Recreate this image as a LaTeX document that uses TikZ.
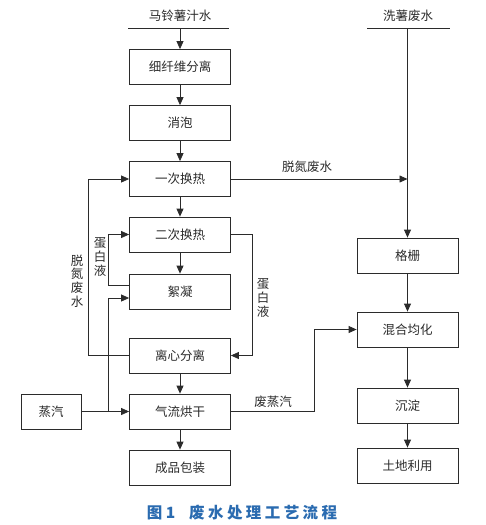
\documentclass[tikz,border=0pt]{standalone}
\usepackage{fontspec}
\setmainfont{Noto Sans CJK SC}
\newfontfamily\capfont[LetterSpace=22]{Noto Sans CJK SC}
\usetikzlibrary{arrows.meta}
\definecolor{capblue}{HTML}{2A6BB0}
\definecolor{ink}{HTML}{2B2B2B}
\tikzset{
  box/.style={draw, minimum width=101pt, minimum height=35pt, inner sep=0pt,
    font=\fontsize{12.5}{14}\selectfont},
  flow/.style={-{Triangle[length=8pt,width=7pt]}},
  lbl/.style={inner sep=0pt, font=\fontsize{12.5}{14}\selectfont},
  vlbl/.style={lbl, align=center, font=\fontsize{12.5}{13.8}\selectfont},
}
\begin{document}
\begin{tikzpicture}[x=1pt, y=-1pt, line width=0.8pt, draw=ink, text=ink]
  \useasboundingbox (0,0) rectangle (486,525);
  % process column
  \foreach \n/\y/\t in {a/67/细纤维分离, b/123/消泡, c/179/一次换热, d/234.5/二次换热,
      e/291.5/絮凝, f/355.5/离心分离, g/411.5/气流烘干, h/467.5/成品包装}
    \node[box] (\n) at (180,\y) {\t};
  % waste water column
  \foreach \n/\y/\t in {k1/255.5/格栅, k2/329.5/混合均化, k3/405.5/沉淀, k4/465.5/土地利用}
    \node[box] (\n) at (407.5,\y) {\t};
  \node[box, minimum width=60pt] (st) at (51,411.5) {蒸汽};
  % inputs
  \node[lbl] (in1) at (180,16) {马铃薯汁水};
  \node[lbl] (in2) at (408,16) {洗薯废水};
  \coordinate (s1) at (180,28);
  \coordinate (s2) at (407.5,28);
  \draw (128,28) -- (229,28);
  \draw (367,28) -- (450,28);
  \draw[flow] (s1) -- (a);
  \draw[flow] (s2) -- (k1);
  \foreach \p/\q in {a/b, b/c, c/d, d/e, f/g, g/h, k1/k2, k2/k3, k3/k4}
    \draw[flow] (\p) -- (\q);
  % side streams
  \draw[flow] (c.east) -- (c.east -| s2);
  \node[lbl] (t1) at (307,167) {脱氮废水};
  \draw[flow] (f.west) -- ++(-41,0) |- (c.west);
  \node[vlbl] (t2) at (77,281) {脱\\氮\\废\\水};
  \draw[flow] ([yshift=6.5pt]e.west) -- ++(-21,0) |- (d.west);
  \node[vlbl] (t3) at (100,257) {蛋\\白\\液};
  \draw[flow] (d.east) -- ++(21,0) |- (f.east);
  \node[vlbl] (t4) at (263,298) {蛋\\白\\液};
  \draw[flow] (st) -- (g);
  \coordinate (j1) at (108,411.5);
  \draw[flow] (j1) |- ([yshift=-6.5pt]e.west);
  \draw[flow] (g.east) -- ++(83,0) |- (k2.west);
  \node[lbl] (t5) at (273,402) {废蒸汽};
  % caption
  \node[inner sep=0pt, text=capblue, font=\capfont\fontsize{15.5}{18}\selectfont\bfseries]
    (cap) at (242,513) {图1\hspace{14pt}废水处理工艺流程};
\end{tikzpicture}
\end{document}
